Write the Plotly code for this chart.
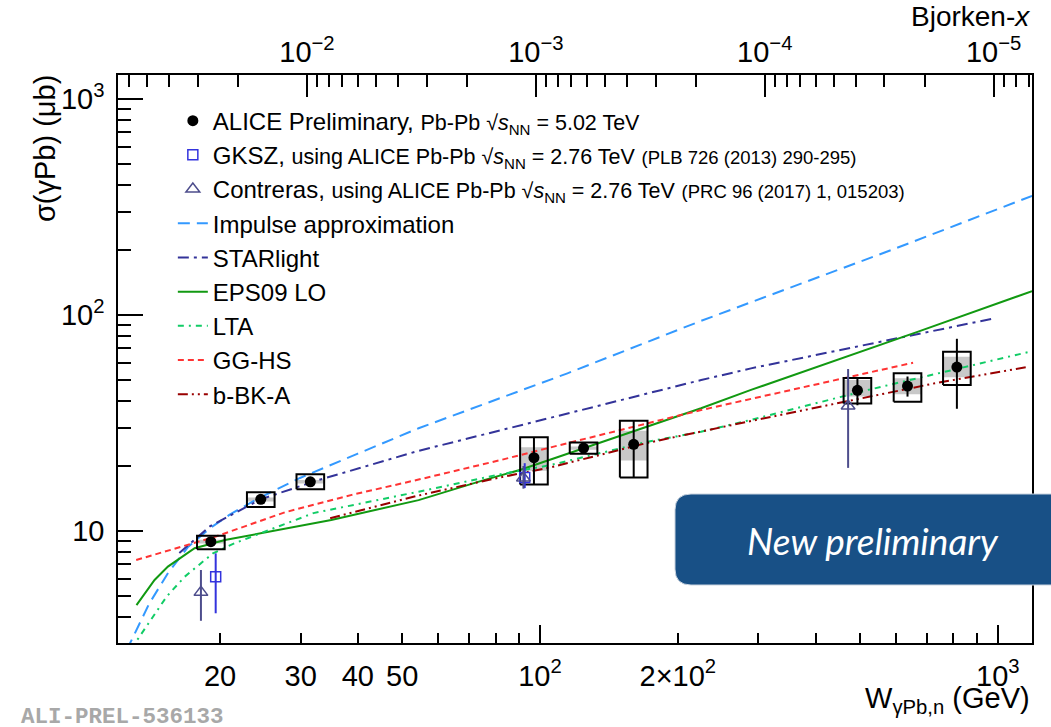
import math
import plotly.graph_objects as go

# ---------------- data ----------------
# ALICE preliminary, Pb-Pb 5.02 TeV
W_alice = [19.1, 24.55, 31.5, 97.0, 124.5, 160.2, 493.6, 635.0, 814.0]
sig_alice = [8.92, 14.02, 16.9, 21.85, 24.2, 25.2, 44.8, 46.9, 57.4]
stat_plus = [0.3, 0.4, 0.4, 5.35, 0.8, 7.2, 6.3, 5.0, 20.2]
stat_minus = [0.3, 0.4, 0.4, 5.45, 0.8, 7.5, 6.6, 5.0, 20.6]
syst_lo = [8.24, 12.9, 15.6, 16.4, 22.8, 17.7, 38.9, 39.7, 47.4]
syst_hi = [9.51, 15.1, 18.3, 27.2, 25.7, 32.4, 51.1, 53.7, 67.6]
gray_lo = [8.75, 13.7, 16.6, 19.0, 23.8, 21.2, 41.9, 43.0, 51.5]
gray_hi = [9.10, 14.3, 17.2, 24.4, 24.6, 29.1, 50.0, 50.9, 64.1]
box_factor = 1.072

# GKSZ
W_gksz = [19.57, 92.6]
sig_gksz = [6.14, 17.7]
gksz_plus = [1.74, 2.9]
gksz_minus = [1.98, 1.9]

# Contreras
W_con = [18.17, 92.0, 471.0]
sig_con = [5.20, 17.6, 37.9]
con_plus = [1.4, 2.4, 18.3]
con_minus = [1.36, 1.9, 18.3]

# Models
W_ia = [12.5, 14.0, 15.4, 17.0, 19.0, 21.0, 24.0, 29.9, 40.0, 54.3, 114.8, 225, 586, 1188]
sig_ia = [2.8, 4.6, 6.4, 8.4, 10.3, 11.9, 14.0, 17.6, 22.8, 29.9, 53.7, 94, 200, 356]

W_star = [16.3, 19.0, 24.5, 32.8, 54.3, 114.8, 225, 289, 616, 983]
sig_star = [7.9, 10.5, 14.0, 17.2, 23.5, 35.1, 50.0, 56.6, 78.9, 96.5]

W_eps = [13.14, 14.39, 15.39, 17.6, 20.5, 24.55, 35.0, 54.3, 75.4, 90.7, 224.8, 289, 670, 1188]
sig_eps = [4.54, 5.93, 6.84, 8.32, 9.08, 9.76, 11.25, 13.9, 17.2, 19.2, 37.0, 45.0, 83.7, 129]

W_lta = [12.8, 15.29, 16.74, 19.3, 21.5, 32.0, 54.3, 80.7, 105.5, 171.8, 224.8, 289, 521, 1188]
sig_lta = [2.85, 4.97, 6.14, 7.88, 8.77, 12.1, 15.2, 18.2, 20.2, 25.9, 28.8, 32.7, 45.0, 68.0]

W_gg = [13.12, 19.5, 27.7, 38.8, 54.3, 82, 114.8, 224.8, 653]
sig_gg = [7.34, 9.4, 12.2, 14.7, 17.3, 21.3, 25.5, 36.3, 60.1]

W_bk = [34.8, 54.3, 80.7, 105.5, 171.8, 289, 729, 1170]
sig_bk = [11.45, 14.6, 17.6, 19.7, 25.6, 32.3, 48.3, 57.6]

# axes
x_range = [1.0782, 3.0747]
y_range = [0.4815, 3.111]
M_jpsi = 3.0969
x_ticks = [20, 30, 40, 50, 100, 200, 1000]
x_ticktext = ["20", "30", "40", "50", "10<sup>2</sup>", "2×10<sup>2</sup>", "10<sup>3</sup>"]
x_minor = [60, 70, 80, 90, 300, 400, 500, 600, 700, 800, 900]
x_long = [100, 1000]
y_ticks = [10, 100, 1000]
y_ticktext = ["10", "10<sup>2</sup>", "10<sup>3</sup>"]
y_minor = [m * d for d in (1, 10, 100) for m in range(2, 10) if 3.1 < m * d < 1290]
bx_ticks = [1e-2, 1e-3, 1e-4, 1e-5]
bx_ticktext = ["10<sup>−2</sup>", "10<sup>−3</sup>", "10<sup>−4</sup>", "10<sup>−5</sup>"]

bx_lo = math.log10(M_jpsi ** 2) - 2 * x_range[0]
bx_hi = math.log10(M_jpsi ** 2) - 2 * x_range[1]
bx_minor = [m * 10.0 ** e for e in range(-6, -1) for m in range(2, 10)
            if bx_hi < math.log10(m * 10.0 ** e) < bx_lo]

FONT = "Liberation Sans"


def boxes(lo, hi):
    xs, ys = [], []
    for w, a, b in zip(W_alice, lo, hi):
        x0, x1 = w / box_factor, w * box_factor
        xs += [x0, x1, x1, x0, x0, None]
        ys += [a, a, b, b, a, None]
    return xs, ys


fig = go.Figure()

# gray uncertainty boxes
gx, gy = boxes(gray_lo, gray_hi)
fig.add_trace(go.Scatter(x=gx, y=gy, mode="lines", fill="toself", fillcolor="#c8c8c8",
                         line=dict(width=0, color="#c8c8c8"), showlegend=False, hoverinfo="skip"))

# models
sub = "font-size:21.5px"
ref = "font-size:18.5px"
models = [
    ("Impulse approximation", W_ia, sig_ia, "#3399ff", "12px,7px", 4),
    ("STARlight", W_star, sig_star, "#333399", "11px,5px,3px,5px", 5),
    ("EPS09 LO", W_eps, sig_eps, "#119911", "solid", 6),
    ("LTA", W_lta, sig_lta, "#11cc66", "6px,5px,2px,5px", 7),
    ("GG-HS", W_gg, sig_gg, "#ff3333", "6px,4px", 8),
    ("b-BK-A", W_bk, sig_bk, "#990000", "10px,4px,2px,4px,2px,4px", 9),
]
for name, wx, sy, col, dash, rank in models:
    fig.add_trace(go.Scatter(x=wx, y=sy, mode="lines", name=name, legendrank=rank,
                             line=dict(color=col, width=2, dash=dash)))

# black systematic boxes
sx, sy_ = boxes(syst_lo, syst_hi)
fig.add_trace(go.Scatter(x=sx, y=sy_, mode="lines", line=dict(color="black", width=2),
                         showlegend=False, hoverinfo="skip"))

# GKSZ
fig.add_trace(go.Scatter(
    x=W_gksz, y=sig_gksz, mode="markers", legendrank=2,
    name=("GKSZ, <span style='" + sub + "'>using ALICE Pb-Pb √<i>s</i><sub>NN</sub> = 2.76 TeV</span>"
          " <span style='" + ref + "'>(PLB 726 (2013) 290-295)</span>"),
    marker=dict(symbol="square-open", size=10, color="#3333dd", line=dict(width=1.5, color="#3333dd")),
    error_y=dict(type="data", symmetric=False, array=gksz_plus, arrayminus=gksz_minus,
                 width=0, thickness=2, color="#3333dd")))

# Contreras
fig.add_trace(go.Scatter(
    x=W_con, y=sig_con, mode="markers", legendrank=3,
    name=("Contreras, <span style='" + sub + "'>using ALICE Pb-Pb √<i>s</i><sub>NN</sub> = 2.76 TeV</span>"
          " <span style='" + ref + "'>(PRC 96 (2017) 1, 015203)</span>"),
    marker=dict(symbol="triangle-up-open", size=12, color="#4d4d8c", line=dict(width=1.5, color="#4d4d8c")),
    error_y=dict(type="data", symmetric=False, array=con_plus, arrayminus=con_minus,
                 width=0, thickness=2, color="#4d4d8c")))

# ALICE
fig.add_trace(go.Scatter(
    x=W_alice, y=sig_alice, mode="markers", legendrank=1,
    name="ALICE Preliminary, <span style='" + sub + "'>Pb-Pb √<i>s</i><sub>NN</sub> = 5.02 TeV</span>",
    marker=dict(symbol="circle", size=11, color="black"),
    error_y=dict(type="data", symmetric=False, array=stat_plus, arrayminus=stat_minus,
                 width=0, thickness=2, color="black")))

# dummy traces to activate overlay axes
fig.add_trace(go.Scatter(x=[1e-3], y=[10], xaxis="x2", mode="markers", marker=dict(opacity=0),
                         showlegend=False, hoverinfo="skip"))
fig.add_trace(go.Scatter(x=[100], y=[10], xaxis="x3", mode="markers", marker=dict(opacity=0),
                         showlegend=False, hoverinfo="skip"))

axis_common = dict(showgrid=False, zeroline=False, tickcolor="black", tickwidth=1.5,
                   tickfont=dict(family=FONT, size=29, color="black"))

fig.update_layout(
    width=1051, height=727,
    margin=dict(l=118, r=19, t=75, b=84),
    paper_bgcolor="white", plot_bgcolor="white",
    font=dict(family=FONT, color="black"),
    showlegend=True,
    legend=dict(x=0.060, y=0.9585, xanchor="left", yanchor="top", bgcolor="rgba(0,0,0,0)",
                font=dict(family=FONT, size=24, color="black"), traceorder="normal",
                itemwidth=30),
    xaxis=dict(type="log", range=x_range, tickmode="array", tickvals=x_ticks, ticktext=x_ticktext,
               ticks="inside", ticklen=10, showline=True, linecolor="black", linewidth=1.5,
               mirror=True, ticklabelstandoff=6,
               minor=dict(tickmode="array", tickvals=x_minor, ticks="inside", ticklen=10,
                          tickcolor="black", tickwidth=1.5),
               **axis_common),
    xaxis2=dict(type="log", range=[bx_lo, bx_hi], overlaying="x", anchor="y", side="top",
                tickmode="array", tickvals=bx_ticks, ticktext=bx_ticktext, ticks="inside",
                ticklen=22, showline=False, ticklabelstandoff=6,
                minor=dict(tickmode="array", tickvals=bx_minor, ticks="inside", ticklen=12,
                           tickcolor="black", tickwidth=1.5),
                **axis_common),
    xaxis3=dict(type="log", range=x_range, overlaying="x", anchor="y", side="bottom",
                tickmode="array", tickvals=x_long, ticks="inside", ticklen=18, showticklabels=False,
                showline=False, showgrid=False, zeroline=False, tickcolor="black", tickwidth=1.5),
    yaxis=dict(type="log", range=y_range, tickmode="array", tickvals=y_ticks, ticktext=y_ticktext,
               ticks="inside", ticklen=25, showline=True, linecolor="black", linewidth=1.5,
               mirror=True, ticklabelstandoff=6,
               minor=dict(tickmode="array", tickvals=y_minor, ticks="inside", ticklen=13,
                          tickcolor="black", tickwidth=1.5),
               **axis_common),
)

# rounded "New preliminary" badge (paper coords)
x0, x1, y0, y1 = 0.6094, 1.04, 0.1021, 0.2623
rx, ry = 0.0175, 0.028
path = (f"M {x0+rx},{y0} L {x1-rx},{y0} Q {x1},{y0} {x1},{y0+ry} L {x1},{y1-ry} "
        f"Q {x1},{y1} {x1-rx},{y1} L {x0+rx},{y1} Q {x0},{y1} {x0},{y1-ry} "
        f"L {x0},{y0+ry} Q {x0},{y0} {x0+rx},{y0} Z")
fig.add_shape(type="path", path=path, xref="paper", yref="paper",
              fillcolor="#185086", line=dict(color="#c9d3df", width=1), layer="above")

fig.add_annotation(text="<i>New preliminary</i>", x=0.826, y=0.1813, xref="paper", yref="paper",
                   xanchor="center", yanchor="middle", showarrow=False,
                   font=dict(family="Lato", size=37, color="white"))

# axis titles
fig.add_annotation(text="W<sub>γPb,n</sub> (GeV)", x=1.0, y=-0.1, xref="paper", yref="paper",
                   xanchor="right", yanchor="middle", showarrow=False,
                   font=dict(family=FONT, size=29, color="black"))
fig.add_annotation(text="σ(γPb) (μb)", x=-0.08, y=1.004, xref="paper", yref="paper",
                   xanchor="center", yanchor="top", textangle=-90, showarrow=False,
                   font=dict(family=FONT, size=29, color="black"))
fig.add_annotation(text="Bjorken-<i>x</i>", x=1.0, y=1.103, xref="paper", yref="paper",
                   xanchor="right", yanchor="middle", showarrow=False,
                   font=dict(family=FONT, size=28, color="black"))
fig.add_annotation(text="<b>ALI-PREL-536133</b>", x=-0.108, y=-0.1303, xref="paper", yref="paper",
                   xanchor="left", yanchor="middle", showarrow=False,
                   font=dict(family="Liberation Mono", size=22.5, color="#a8a8a8"))

fig.write_html("out.html")
